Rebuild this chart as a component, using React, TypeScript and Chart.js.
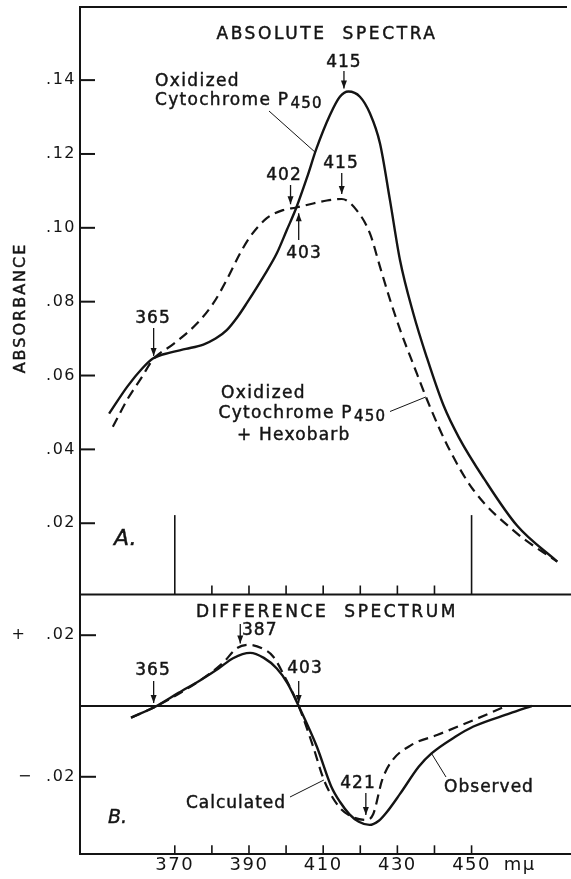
import { useEffect, useRef } from "react";
import { Chart, registerables } from "chart.js";

Chart.register(...registerables);

const W = 571;
const H = 879;
const INK = "#141414";
const FONT = '"DejaVu Sans", sans-serif';

// Wavelength axis (mμ), shared by both panels
const waveMin = 344.45;
const waveMax = 476.8;
const waveTicks = [370, 380, 390, 400, 410, 420, 430, 440, 450];
const waveLabels = [370, 390, 410, 430, 450];
const unitTick = 463;
const refMarks = [370, 450];

// A. Absolute spectra
const absMin = 0.0007;
const absMax = 0.1598;
const absTicks = [0.02, 0.04, 0.06, 0.08, 0.1, 0.12, 0.14];
const refMarkTop = 0.0222;

const oxidizedWave = [352.3, 357.2, 361.2, 364.1, 368.7, 373.0, 377.7, 381.0, 384.0, 387.0, 389.4, 393.9, 397.5, 400.2, 402.7, 405.6, 408.2, 411.8, 414.5, 416.8, 419.9, 422.6, 425.3, 428.0, 430.7, 434.3, 437.9, 442.4, 446.6, 453.4, 462.3, 473.1];
const oxidizedAbs = [0.0497, 0.057, 0.0619, 0.0646, 0.0662, 0.0672, 0.0684, 0.07, 0.0723, 0.076, 0.0796, 0.0868, 0.0931, 0.0994, 0.1053, 0.1135, 0.1215, 0.1305, 0.1355, 0.1369, 0.1355, 0.131, 0.1229, 0.1075, 0.0913, 0.0768, 0.065, 0.052, 0.0432, 0.032, 0.0193, 0.0096];

const hexobarbWave = [353.3, 357.2, 361.2, 364.1, 369.6, 375.9, 380.4, 384.0, 387.6, 390.3, 394.8, 399.2, 402.7, 407.3, 411.0, 415.0, 419.0, 422.6, 425.3, 428.0, 430.7, 434.3, 438.8, 443.6, 450.5, 462.3, 473.1];
const hexobarbAbs = [0.0461, 0.0535, 0.0597, 0.0643, 0.0685, 0.074, 0.0796, 0.0859, 0.0931, 0.0976, 0.1026, 0.1048, 0.1055, 0.1066, 0.1074, 0.1078, 0.1048, 0.0985, 0.0895, 0.0806, 0.0725, 0.063, 0.0515, 0.0408, 0.029, 0.0172, 0.0096];

// B. Difference spectrum
const diffMin = -0.0419;
const diffMax = 0.0315;
const diffTicks = [-0.02, 0.02];
const diffTickLabels = ["\u2212  .02", "+   .02"];

const observedWave = [358.2, 365.1, 371.0, 376.9, 381.8, 385.7, 390.3, 394.0, 397.5, 400.4, 403.4, 408.3, 412.2, 414.6, 417.1, 419.6, 422.5, 425.0, 426.9, 430.8, 435.8, 439.2, 445.6, 450.5, 460.3, 466.2];
const observedDiff = [-0.0033, 0, 0.0037, 0.0073, 0.0106, 0.0135, 0.015, 0.0136, 0.0106, 0.0064, 0, -0.0115, -0.0228, -0.0272, -0.0306, -0.0327, -0.0336, -0.0324, -0.0303, -0.0247, -0.0171, -0.0134, -0.0087, -0.0058, -0.0021, 0];

const calculatedWave = [358.2, 365.1, 376.9, 383.0, 386.7, 390.0, 393.5, 396.5, 400.0, 403.4, 407.3, 410.2, 414.2, 418.0, 421.5, 423.5, 425.9, 428.4, 433.8, 440.7, 450.5, 459.3];
const calculatedDiff = [-0.0033, 0, 0.0073, 0.0122, 0.0163, 0.0173, 0.0163, 0.014, 0.0075, 0, -0.0115, -0.0209, -0.0284, -0.0314, -0.0322, -0.0305, -0.0209, -0.0157, -0.011, -0.0082, -0.004, 0];

const pts = (xs: number[], ys: number[]) => xs.map((x, i) => ({ x, y: ys[i] }));

type Ctx = CanvasRenderingContext2D;

function seg(ctx: Ctx, x1: number, y1: number, x2: number, y2: number) {
  ctx.beginPath();
  ctx.moveTo(x1, y1);
  ctx.lineTo(x2, y2);
  ctx.stroke();
}

function arrow(ctx: Ctx, x: number, y1: number, y2: number) {
  ctx.lineWidth = 1.3;
  seg(ctx, x, y1, x, y2);
  const d = Math.sign(y2 - y1);
  ctx.beginPath();
  ctx.moveTo(x, y2);
  ctx.lineTo(x - 3, y2 - 8 * d);
  ctx.lineTo(x + 3, y2 - 8 * d);
  ctx.closePath();
  ctx.fill();
}

function label(
  ctx: Ctx,
  s: string,
  x: number,
  y: number,
  o: { size?: number; align?: CanvasTextAlign; italic?: boolean; spacing?: number } = {}
) {
  const { size = 17, align = "left", italic = false, spacing = 1 } = o;
  ctx.font = `${italic ? "italic " : ""}${size}px ${FONT}`;
  (ctx as any).letterSpacing = `${spacing}px`;
  ctx.textAlign = align;
  ctx.textBaseline = "alphabetic";
  ctx.fillText(s, x, y);
  ctx.lineWidth = 0.45;
  ctx.strokeText(s, x, y);
  return ctx.measureText(s).width;
}

// "Cytochrome P" followed by a subscript 450
function cytochrome(ctx: Ctx, x: number, y: number) {
  const w = label(ctx, "Cytochrome P", x, y, { spacing: 1.3 });
  label(ctx, "450", x + w + 1, y + 3, { size: 15, spacing: 1.2 });
}

const tickSpacing = {
  id: "tickSpacing",
  beforeDraw(chart: Chart) {
    (chart.ctx as any).letterSpacing = "1.5px";
  },
};

const fixedY = (scale: any) => {
  scale.width = 80;
  scale.paddingTop = 0;
  scale.paddingBottom = 0;
};

const panelA = {
  id: "panelA",
  afterDraw(chart: Chart) {
    const { ctx, chartArea: a } = chart;
    const x = chart.scales.x;
    const y = chart.scales.y;
    const px = (w: number) => x.getPixelForValue(w);
    const py = (v: number) => y.getPixelForValue(v);
    ctx.save();
    ctx.strokeStyle = INK;
    ctx.fillStyle = INK;
    ctx.lineCap = "butt";

    // frame: top edge and the line shared with panel B
    ctx.lineWidth = 2;
    seg(ctx, a.left, a.top, a.right - 4, a.top);
    seg(ctx, a.left, a.bottom, a.right, a.bottom);

    // inward ticks on the absorbance axis
    absTicks.forEach((v) => seg(ctx, a.left, py(v), a.left + 15, py(v)));

    // wavelength ticks rising from the shared line, long marks at 370 and 450
    ctx.lineWidth = 1.6;
    waveTicks.forEach((w) => {
      const top = refMarks.includes(w) ? py(refMarkTop) : a.bottom - 9;
      seg(ctx, px(w), a.bottom, px(w), top);
    });

    // axis title
    ctx.save();
    ctx.translate(19, 308);
    ctx.rotate(-Math.PI / 2);
    label(ctx, "ABSORBANCE", 0, 6, { size: 16, align: "center", spacing: 2 });
    ctx.restore();

    label(ctx, "ABSOLUTE  SPECTRA", 327, 39, { align: "center", spacing: 2.6 });

    // peak and crossing markers
    label(ctx, "415", px(415.6), 67, { align: "center" });
    arrow(ctx, px(415.6), 71, py(0.1369) - 3);
    label(ctx, "402", 284, 180, { align: "center" });
    arrow(ctx, px(401.2), 185, py(0.1053) - 4);
    label(ctx, "415", 341, 168, { align: "center" });
    arrow(ctx, px(415.0), 173, py(0.1078) - 5);
    label(ctx, "403", 304, 258, { align: "center" });
    arrow(ctx, px(403.4), 240, py(0.1053) + 5);
    label(ctx, "365", 153, 323, { align: "center" });
    arrow(ctx, px(364.3), 328, py(0.0645) - 3);

    // curve captions
    label(ctx, "Oxidized", 155, 86, { spacing: 1.4 });
    cytochrome(ctx, 155, 104.5);
    ctx.lineWidth = 1;
    seg(ctx, 269, 111, px(407.8), py(0.1205));

    label(ctx, "Oxidized", 221, 398, { spacing: 1.4 });
    cytochrome(ctx, 218.5, 417.5);
    label(ctx, "+ Hexobarb", 237, 440, { spacing: 1.2 });
    ctx.lineWidth = 1;
    seg(ctx, 390, 411.5, px(437.7), py(0.0542));

    label(ctx, "A.", 114, 545, { size: 22, italic: true, spacing: 0 });
    ctx.restore();
  },
};

const panelB = {
  id: "panelB",
  afterDraw(chart: Chart) {
    const { ctx, chartArea: a } = chart;
    const x = chart.scales.x;
    const y = chart.scales.y;
    const px = (w: number) => x.getPixelForValue(w);
    const py = (v: number) => y.getPixelForValue(v);
    ctx.save();
    ctx.strokeStyle = INK;
    ctx.fillStyle = INK;

    ctx.lineWidth = 2;
    diffTicks.forEach((v) => seg(ctx, a.left, py(v), a.left + 16, py(v)));
    ctx.lineWidth = 1.6;
    waveTicks.forEach((w) => seg(ctx, px(w), a.bottom, px(w), a.bottom - 9));

    label(ctx, "DIFFERENCE  SPECTRUM", 327, 616.5, { align: "center", spacing: 2.6 });

    label(ctx, "387", 242, 635);
    arrow(ctx, px(387.65), 624, py(0.0168) - 3);
    label(ctx, "365", 153, 675, { align: "center" });
    arrow(ctx, px(364.3), 681, py(0) - 3);
    label(ctx, "403", 305, 673, { align: "center" });
    arrow(ctx, px(403.4), 681, py(0) - 3);
    label(ctx, "421", 358, 788, { align: "center" });
    arrow(ctx, px(421.5), 793, py(-0.0322) - 5);

    label(ctx, "Calculated", 236, 808, { align: "center" });
    ctx.lineWidth = 1;
    seg(ctx, 290, 797, px(410.2), py(-0.0209));
    label(ctx, "Observed", 489, 792, { align: "center" });
    ctx.lineWidth = 1;
    seg(ctx, 446, 777, px(439.2), py(-0.0134));

    label(ctx, "B.", 108, 823, { size: 19, italic: true, spacing: 0 });
    ctx.restore();
  },
};

const solid = (data: { x: number; y: number }[]) => ({
  data,
  borderColor: INK,
  borderWidth: 2.4,
  pointRadius: 0,
  fill: false,
  cubicInterpolationMode: "monotone" as const,
  borderJoinStyle: "round" as const,
});

const dashed = (data: { x: number; y: number }[]) => ({
  ...solid(data),
  borderWidth: 2.2,
  borderDash: [10, 6],
});

const common = {
  responsive: false,
  animation: false as const,
  devicePixelRatio: 1,
  events: [] as any[],
  plugins: { legend: { display: false }, tooltip: { enabled: false } },
};

export default function App() {
  const aRef = useRef<HTMLCanvasElement>(null);
  const bRef = useRef<HTMLCanvasElement>(null);

  useEffect(() => {
    const chartA = new Chart(aRef.current!, {
      type: "line",
      data: {
        datasets: [
          solid(pts(oxidizedWave, oxidizedAbs)),
          dashed(pts(hexobarbWave, hexobarbAbs)),
        ],
      },
      options: {
        ...common,
        layout: { padding: { top: 7, bottom: H - 594.5, left: 0, right: 0 } },
        scales: {
          x: { type: "linear", min: waveMin, max: waveMax, display: false },
          y: {
            type: "linear",
            min: absMin,
            max: absMax,
            afterBuildTicks: (s: any) => {
              s.ticks = absTicks.map((value) => ({ value }));
            },
            afterFit: fixedY,
            ticks: {
              color: INK,
              padding: 4,
              font: { family: FONT, size: 16 },
              callback: (v: any) => Number(v).toFixed(2).replace(/^0/, ""),
            },
            grid: { display: true, drawOnChartArea: false, drawTicks: false },
            border: { display: true, color: INK, width: 2 },
          },
        },
      },
      plugins: [tickSpacing, panelA],
    } as any);

    const chartB = new Chart(bRef.current!, {
      type: "line",
      data: {
        datasets: [
          {
            data: [
              { x: waveMin, y: 0 },
              { x: waveMax, y: 0 },
            ],
            borderColor: INK,
            borderWidth: 2,
            pointRadius: 0,
          },
          dashed(pts(calculatedWave, calculatedDiff)),
          solid(pts(observedWave, observedDiff)),
        ],
      },
      options: {
        ...common,
        layout: { padding: { top: 594.5, bottom: 0, left: 0, right: 0 } },
        scales: {
          x: {
            type: "linear",
            min: waveMin,
            max: waveMax,
            afterBuildTicks: (s: any) => {
              s.ticks = [...waveTicks, unitTick].map((value) => ({ value }));
            },
            afterFit: (s: any) => {
              s.height = H - 854.3;
              s.paddingLeft = 0;
              s.paddingRight = 0;
            },
            ticks: {
              color: INK,
              padding: 0,
              autoSkip: false,
              maxRotation: 0,
              minRotation: 0,
              font: { family: FONT, size: 18 },
              callback: (v: any) => {
                const n = Number(v);
                if (n === unitTick) return "m\u03bc";
                return waveLabels.includes(n) ? String(n) : "";
              },
            },
            grid: { display: true, drawOnChartArea: false, drawTicks: false },
            border: { display: true, color: INK, width: 2 },
          },
          y: {
            type: "linear",
            min: diffMin,
            max: diffMax,
            afterBuildTicks: (s: any) => {
              s.ticks = diffTicks.map((value) => ({ value }));
            },
            afterFit: fixedY,
            ticks: {
              color: INK,
              padding: 4,
              font: { family: FONT, size: 16 },
              callback: (v: any) => diffTickLabels[diffTicks.indexOf(Number(v))] ?? "",
            },
            grid: { display: true, drawOnChartArea: false, drawTicks: false },
            border: { display: true, color: INK, width: 2 },
          },
        },
      },
      plugins: [tickSpacing, panelB],
    } as any);

    return () => {
      chartA.destroy();
      chartB.destroy();
    };
  }, []);

  return (
    <div style={{ position: "absolute", left: 0, top: 0, width: W, height: H, background: "#fff" }}>
      <canvas ref={aRef} width={W} height={H} style={{ position: "absolute", left: 0, top: 0 }} />
      <canvas ref={bRef} width={W} height={H} style={{ position: "absolute", left: 0, top: 0 }} />
    </div>
  );
}
